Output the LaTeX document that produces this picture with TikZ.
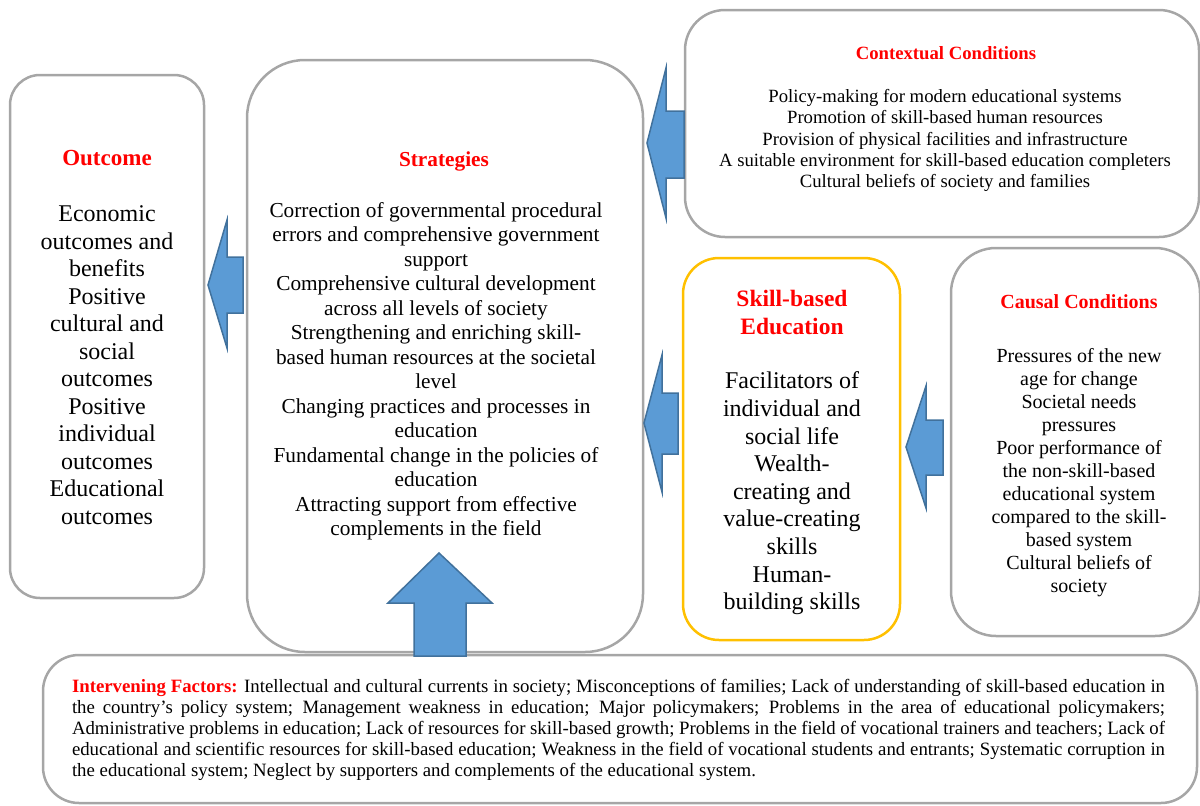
\documentclass[tikz,border=0pt]{standalone}
\usepackage{fontspec}
\setmainfont{Liberation Serif}
\definecolor{framegray}{HTML}{A6A6A6}
\definecolor{framegold}{HTML}{FFC000}
\definecolor{arrowfill}{HTML}{5B9BD5}
\definecolor{arrowedge}{HTML}{41719C}
\newcommand{\fsz}[2]{\fontsize{#1pt}{#2pt}\selectfont}
\begin{document}
\begin{tikzpicture}[x=1pt,y=-1pt,
  panel/.style={draw=framegray, line width=2.5pt, rounded corners=#1, inner sep=0pt},
  goldpanel/.style={draw=framegold, line width=2.5pt, rounded corners=#1, inner sep=0pt},
  heading/.style={text=red, font=\bfseries\fsz{#1}{#1}, inner sep=0pt},
  bodytext/.style={align=center, inner sep=0pt},
  blockarrow/.style={fill=arrowfill, draw=arrowedge, line width=1.5pt, line join=miter}]
\useasboundingbox (0,0) rectangle (1200,806);

% frames
\node[panel=30pt, minimum width=194pt, minimum height=523pt] (outcomebox) at (107,336.5) {};
\node[panel=58pt, minimum width=396pt, minimum height=592pt] (strategybox) at (445,356) {};
\node[panel=40pt, minimum width=514pt, minimum height=227pt] (contextbox) at (942,123.5) {};
\node[goldpanel=36pt, minimum width=217pt, minimum height=382pt] (skillbox) at (791.5,449) {};
\node[panel=45pt, minimum width=249pt, minimum height=388pt] (causalbox) at (1075.5,442) {};
\node[panel=36pt, minimum width=1154pt, minimum height=148pt] (interbox) at (620,729) {};

% block arrows
\draw[blockarrow] (208,285) -- (227,220) -- (227,257) -- (243,257) -- (243,313) -- (227,313) -- (227,348) -- cycle;
\draw[blockarrow] (647,143) -- (666,68) -- (666,111) -- (684,111) -- (684,178) -- (666,178) -- (666,218) -- cycle;
\draw[blockarrow] (644,423) -- (662,355) -- (662,393) -- (678,393) -- (678,454) -- (662,454) -- (662,492) -- cycle;
\draw[blockarrow] (906,447) -- (926,386) -- (926,420) -- (943,420) -- (943,475) -- (926,475) -- (926,508) -- cycle;
\draw[blockarrow] (439,553) -- (492,603) -- (466,603) -- (466,656) -- (414,656) -- (414,603) -- (388,603) -- cycle;

% outcome
\node[heading=23] (outcometitle) at (107,158) {Outcome};
\node[bodytext, font=\fsz{24}{27.5}] (outcometext) at (107,365) {Economic\\outcomes and\\benefits\\Positive\\cultural and\\social\\outcomes\\Positive\\individual\\outcomes\\Educational\\outcomes};

% strategies
\node[heading=21.3] (strategytitle) at (444,161) {Strategies};
\node[bodytext, font=\fsz{21.3}{24.5}] (strategytext) at (436,371.5) {Correction of governmental procedural\\errors and comprehensive government\\support\\Comprehensive cultural development\\across all levels of society\\Strengthening and enriching skill-\\based human resources at the societal\\level\\Changing practices and processes in\\education\\Fundamental change in the policies of\\education\\Attracting support from effective\\complements in the field};

% contextual conditions
\node[heading=18.7] (contexttitle) at (946,53) {Contextual Conditions};
\node[bodytext, font=\fsz{18.7}{21.3}] (contexttext) at (945,140.5) {Policy-making for modern educational systems\\Promotion of skill-based human resources\\Provision of physical facilities and infrastructure\\A suitable environment for skill-based education completers\\Cultural beliefs of society and families};

% skill-based education
\node[heading=23.5, align=center, font=\bfseries\fsz{23.5}{28}] (skilltitle) at (792,312) {Skill-based\\Education};
\node[bodytext, font=\fsz{24}{27.6}] (skilltext) at (792,493.5) {Facilitators of\\individual and\\social life\\Wealth-\\creating and\\value-creating\\skills\\Human-\\building skills};

% causal conditions
\node[heading=20] (causaltitle) at (1079,302) {Causal Conditions};
\node[bodytext, font=\fsz{20}{23}] (causaltext) at (1079,473) {Pressures of the new\\age for change\\Societal needs\\pressures\\Poor performance of\\the non-skill-based\\educational system\\compared to the skill-\\based system\\Cultural beliefs of\\society};

% intervening factors
\node[inner sep=0pt, text width=1093pt, align=justify, font=\fsz{18.8}{21}] (intertext) at (618.5,730) {\hyphenpenalty=10000\exhyphenpenalty=10000{\color{red}\bfseries Intervening Factors:} Intellectual and cultural currents in society; Misconceptions of families; Lack of understanding of skill-based education in\linebreak
the country\char39 s policy system; Management weakness in education; Major policymakers; Problems in the area of educational policymakers;\linebreak
Administrative problems in education; Lack of resources for skill-based growth; Problems in the field of vocational trainers and teachers; Lack of\linebreak
educational and scientific resources for skill-based education; Weakness in the field of vocational students and entrants; Systematic corruption in\linebreak
the educational system; Neglect by supporters and complements of the educational system.};
\end{tikzpicture}
\end{document}
